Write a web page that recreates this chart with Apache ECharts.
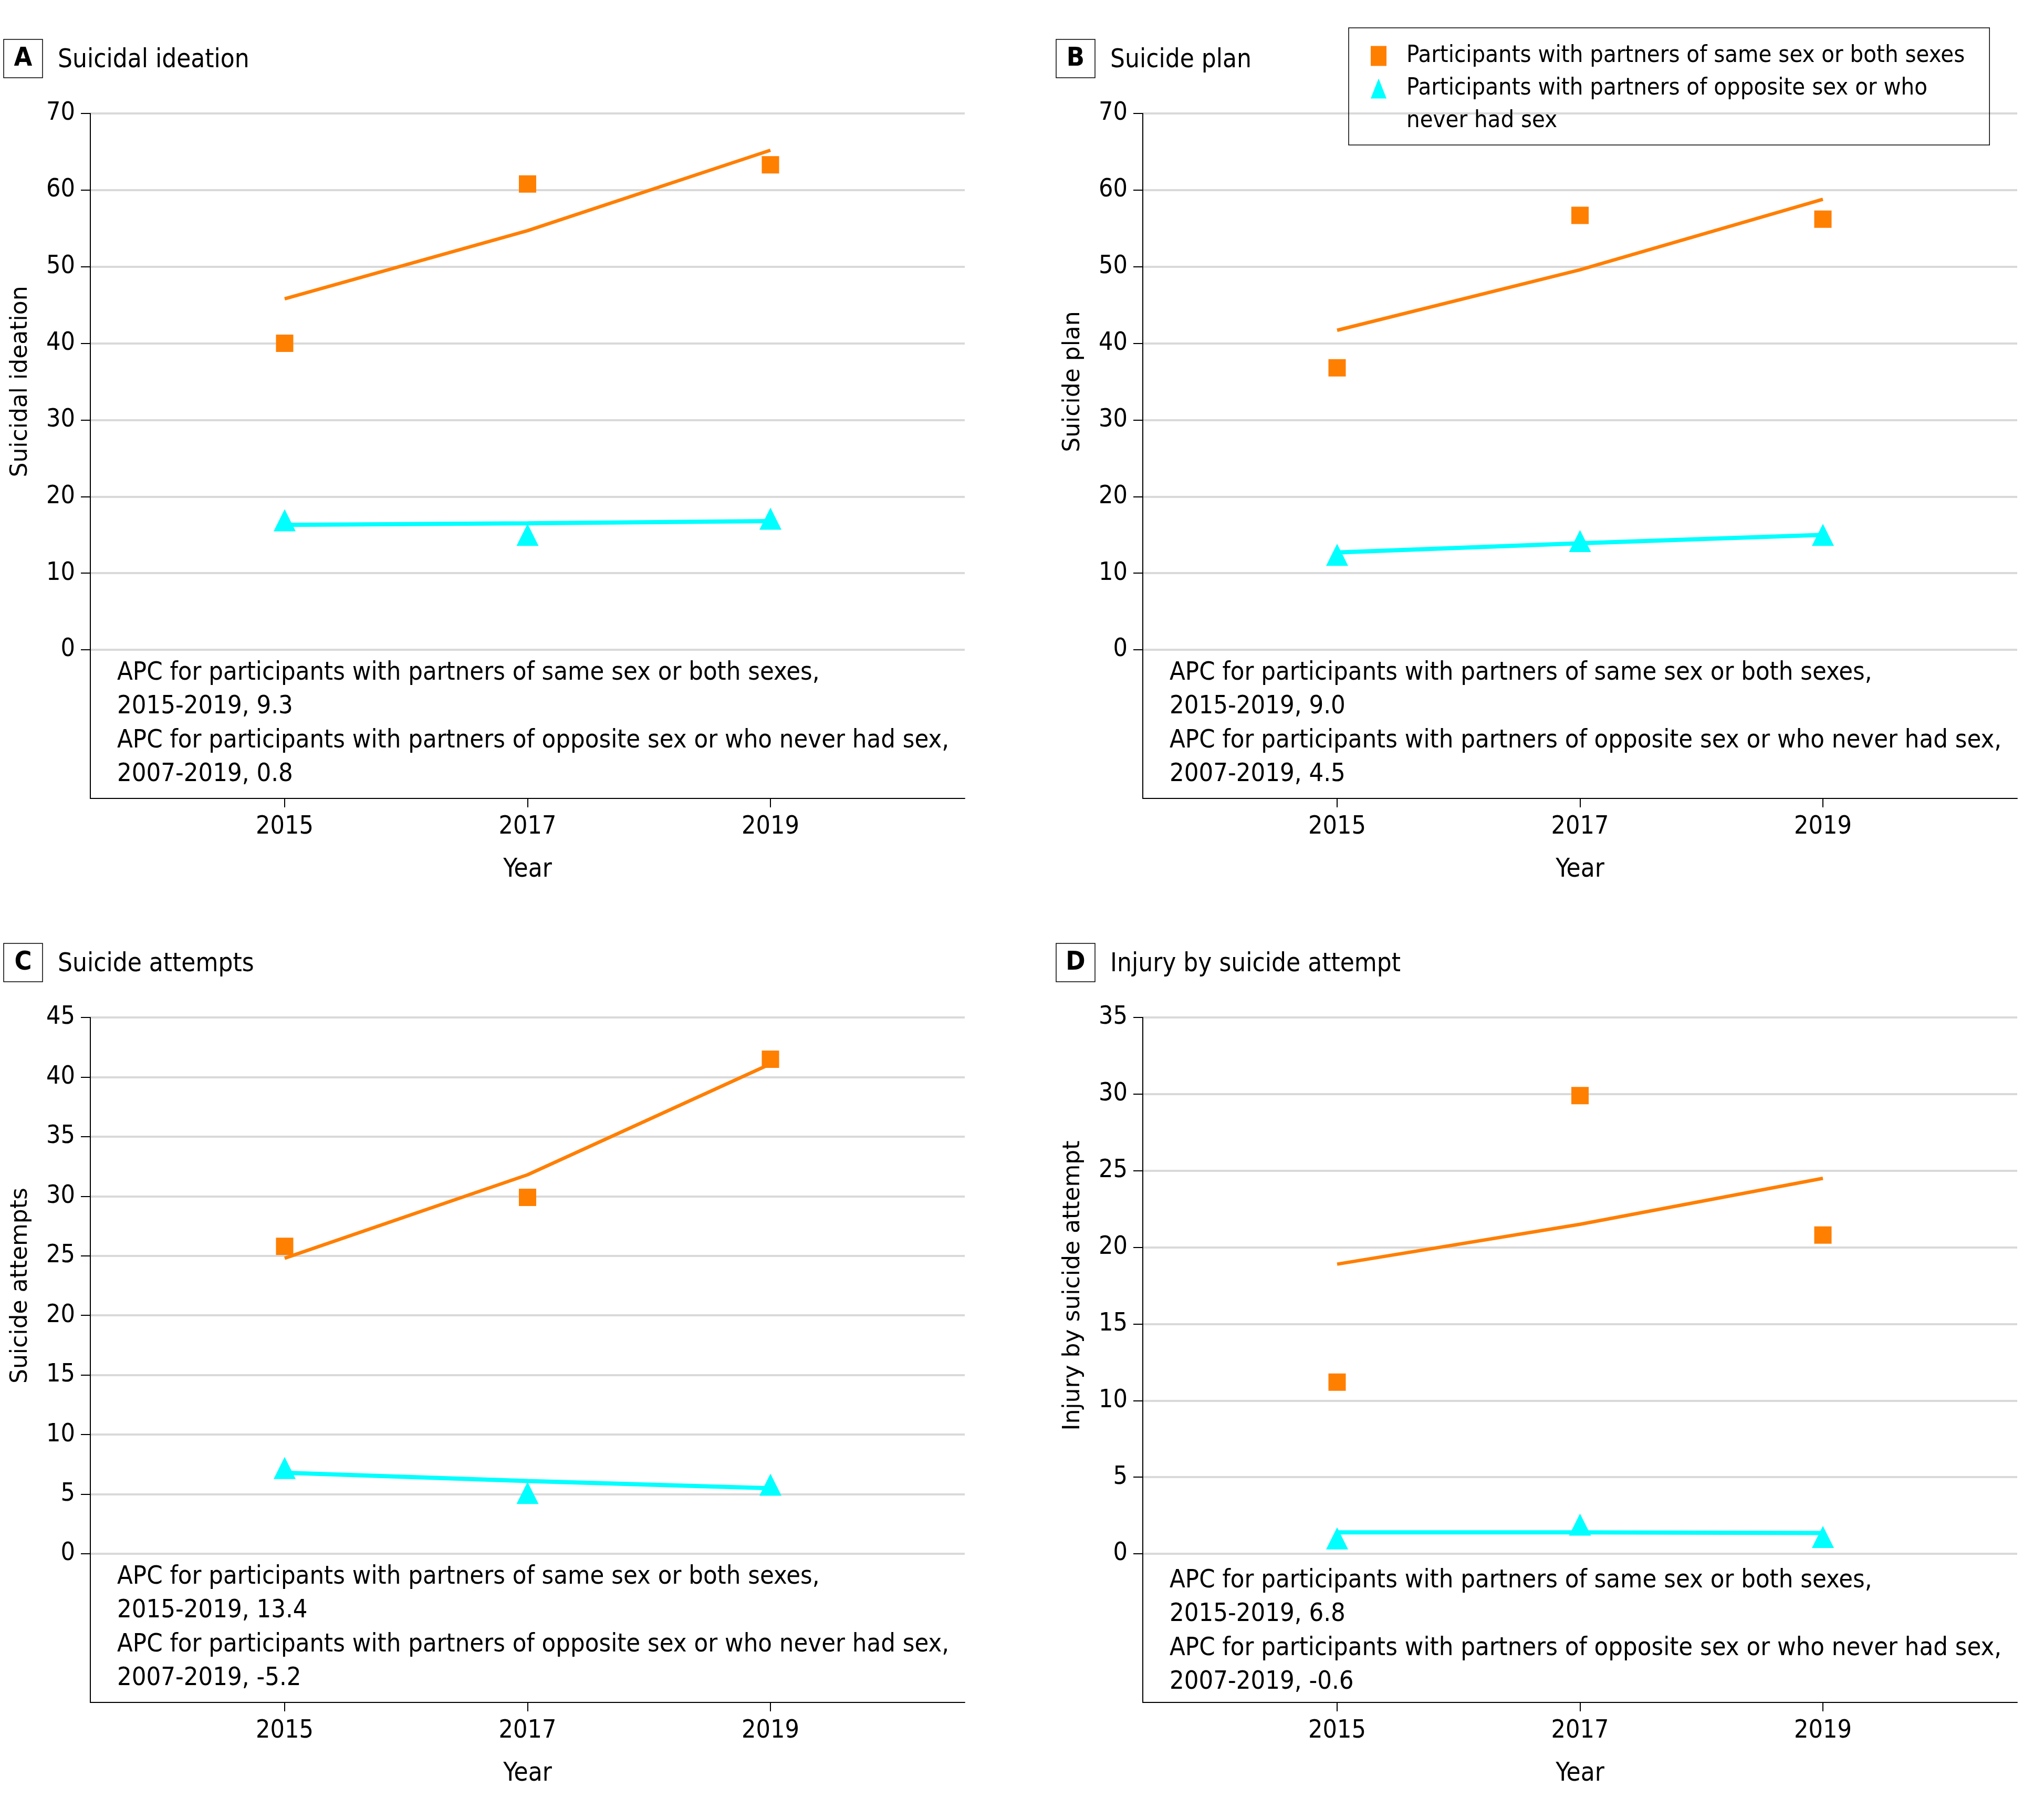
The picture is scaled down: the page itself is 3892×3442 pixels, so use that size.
<!DOCTYPE html>
<html>
<head>
<meta charset="utf-8">
<title>Suicidality by sex of sexual partners, 2015-2019</title>
<script src="https://cdn.jsdelivr.net/npm/echarts@6/dist/echarts.min.js"></script>
<style>
  html, body { margin: 0; padding: 0; background: #fff; }
  #chart { width: 3892px; height: 3442px; }
</style>
</head>
<body>
<div id="chart"></div>
<script>
// survey years and the x tick labels
const years = [2015, 2017, 2019]
const yearTicks = [2015, 2017, 2019]

// A - suicidal ideation
const ideationSame = [40.0, 60.8, 63.3]
const ideationSameFit = [45.8, 54.7, 65.2]
const ideationOpp = [16.9, 15.0, 17.1]
const ideationOppFit = [16.3, 16.5, 16.8]

// B - suicide plan
const planSame = [36.8, 56.7, 56.2]
const planSameFit = [41.7, 49.6, 58.8]
const planOpp = [12.4, 14.2, 15.0]
const planOppFit = [12.7, 13.9, 15.0]

// C - suicide attempts
const attemptSame = [25.8, 29.9, 41.5]
const attemptSameFit = [24.8, 31.8, 41.1]
const attemptOpp = [7.2, 5.1, 5.8]
const attemptOppFit = [6.8, 6.1, 5.5]

// D - injury by suicide attempt
const injurySame = [11.2, 29.9, 20.8]
const injurySameFit = [18.9, 21.5, 24.5]
const injuryOpp = [1.0, 1.9, 1.1]
const injuryOppFit = [1.4, 1.4, 1.35]

const panelLetters = ['A', 'B', 'C', 'D']
const panelTitles = ['Suicidal ideation', 'Suicide plan', 'Suicide attempts', 'Injury by suicide attempt']
const yMaxes = [70, 70, 45, 35]
const yIntervals = [10, 10, 5, 5]
const apcSame = ['9.3', '9.0', '13.4', '6.8']
const apcOpp = ['0.8', '4.5', '-5.2', '-0.6']

const legendSame = 'Participants with partners of same sex or both sexes'
const legendOpp = 'Participants with partners of opposite sex or who never had sex'

const sameByPanel = [ideationSame, planSame, attemptSame, injurySame]
const sameFitByPanel = [ideationSameFit, planSameFit, attemptSameFit, injurySameFit]
const oppByPanel = [ideationOpp, planOpp, attemptOpp, injuryOpp]
const oppFitByPanel = [ideationOppFit, planOppFit, attemptOppFit, injuryOppFit]

// styles
const ORANGE = '#ff7f00'
const CYAN = '#00ffff'
const FONT = "'Liberation Sans Narrow', 'DejaVu Sans Condensed', sans-serif"
const NAME_FONT = "'DejaVu Sans', sans-serif"

// layout (px)
const offX = [0, 2004, 0, 2004]
const offY = [0, 0, 1721, 1721]
const AXIS_LEFT = 172
const PLOT_TOP = 216
const PLOT_W = 1665
const DATA_H = 1021
const FRAME_H = 1304
const X_MIN = 2013.4
const X_MAX = 2020.6
const apcShift = [0, 0, 0, 7]

const tickStyle = { color: '#000', width: 2 }
const pairs = arr => years.map((y, k) => [y, arr[k]])

const grids = []
const xAxes = []
const yAxes = []
const series = []
const graphics = []

panelLetters.forEach((letter, i) => {
  const left = AXIS_LEFT + offX[i]
  const top = PLOT_TOP + offY[i]
  const g = i * 2 // data grid, g + 1 is the frame grid

  grids.push({ left: left, top: top, width: PLOT_W, height: DATA_H })
  grids.push({ left: left, top: top, width: PLOT_W, height: FRAME_H })

  // data grid axes
  xAxes.push({ gridIndex: g, type: 'value', min: X_MIN, max: X_MAX, show: false })
  yAxes.push({
    gridIndex: g,
    type: 'value',
    min: 0,
    max: yMaxes[i],
    interval: yIntervals[i],
    axisLine: { show: false },
    axisTick: { show: true, length: 18, lineStyle: tickStyle },
    axisLabel: { margin: 29, fontSize: 48, fontFamily: FONT, color: '#000' },
    splitLine: { show: true, lineStyle: { color: '#d9d9d9', width: 4 } },
    name: panelTitles[i],
    nameLocation: 'middle',
    nameGap: 110,
    nameTextStyle: { fontFamily: NAME_FONT, fontSize: 44, color: '#000' }
  })

  // frame grid axes (box reaching below zero, year ticks)
  xAxes.push({
    gridIndex: g + 1,
    type: 'value',
    min: X_MIN,
    max: X_MAX,
    axisLine: { show: true, onZero: false, lineStyle: tickStyle },
    axisTick: { show: true, length: 17, customValues: yearTicks, lineStyle: tickStyle },
    axisLabel: {
      customValues: yearTicks,
      margin: 31,
      fontSize: 48,
      fontFamily: FONT,
      color: '#000',
      formatter: v => String(v)
    },
    splitLine: { show: false },
    name: 'Year',
    nameLocation: 'middle',
    nameGap: 112,
    nameTextStyle: { fontFamily: FONT, fontSize: 49, color: '#000' }
  })
  yAxes.push({
    gridIndex: g + 1,
    type: 'value',
    min: 0,
    max: 1,
    axisLine: { show: true, lineStyle: tickStyle },
    axisTick: { show: false },
    axisLabel: { show: false },
    splitLine: { show: false }
  })

  // fitted trend lines
  series.push({
    type: 'line',
    name: 'fit-same-' + letter,
    xAxisIndex: g,
    yAxisIndex: g,
    data: pairs(sameFitByPanel[i]),
    symbol: 'none',
    lineStyle: { color: ORANGE, width: 6.5 },
    itemStyle: { color: ORANGE },
    silent: true,
    z: 2
  })
  series.push({
    type: 'line',
    name: 'fit-opp-' + letter,
    xAxisIndex: g,
    yAxisIndex: g,
    data: pairs(oppFitByPanel[i]),
    symbol: 'none',
    lineStyle: { color: CYAN, width: 8 },
    itemStyle: { color: CYAN },
    silent: true,
    z: 2
  })
  // observed points
  series.push({
    type: 'scatter',
    name: legendSame,
    xAxisIndex: g,
    yAxisIndex: g,
    data: pairs(sameByPanel[i]),
    symbol: 'rect',
    symbolSize: 33,
    itemStyle: { color: ORANGE, opacity: 1 },
    z: 3
  })
  series.push({
    type: 'scatter',
    name: legendOpp,
    xAxisIndex: g,
    yAxisIndex: g,
    data: pairs(oppByPanel[i]),
    symbol: 'triangle',
    symbolSize: [42, 42],
    itemStyle: { color: CYAN, opacity: 1 },
    z: 3
  })

  // panel letter box and title
  graphics.push({
    type: 'rect',
    shape: { x: 7 + offX[i], y: 75 + offY[i], width: 74, height: 73 },
    style: { fill: 'none', stroke: '#000', lineWidth: 1.5 }
  })
  graphics.push({
    type: 'text',
    x: 44 + offX[i],
    y: 112 + offY[i],
    style: {
      text: letter,
      fill: '#000',
      font: 'bold 50px ' + FONT,
      textAlign: 'center',
      textVerticalAlign: 'middle'
    }
  })
  graphics.push({
    type: 'text',
    x: 110 + offX[i],
    y: 115 + offY[i],
    style: {
      text: panelTitles[i],
      fill: '#000',
      font: '49px ' + FONT,
      textAlign: 'left',
      textVerticalAlign: 'middle'
    }
  })
  // APC note inside the plot box
  graphics.push({
    type: 'text',
    x: 223 + offX[i],
    y: 1249 + offY[i] + apcShift[i],
    style: {
      text: 'APC for participants with partners of same sex or both sexes,\n' +
        '2015-2019, ' + apcSame[i] + '\n' +
        'APC for participants with partners of opposite sex or who never had sex,\n' +
        '2007-2019, ' + apcOpp[i],
      fill: '#000',
      font: '48.5px ' + FONT,
      lineHeight: 64.5,
      textAlign: 'left',
      textVerticalAlign: 'top'
    }
  })
})
</script>
<script>
const chart = echarts.init(document.getElementById('chart'), null, { renderer: 'canvas' })
chart.setOption({
  backgroundColor: '#fff',
  animation: false,
  grid: grids,
  xAxis: xAxes,
  yAxis: yAxes,
  legend: {
    left: 2568,
    top: 53,
    orient: 'vertical',
    selectedMode: false,
    itemWidth: 30,
    itemHeight: 38,
    itemGap: 17,
    padding: [31, 47, 23, 42],
    borderColor: '#000',
    borderWidth: 1.5,
    data: [
      { name: legendSame, icon: 'rect', textStyle: { padding: [0, 0, 0, 33] } },
      { name: legendOpp, icon: 'triangle', textStyle: { padding: [62, 0, 0, 33] } }
    ],
    formatter: name => name === legendSame
      ? '{t|' + name + '}'
      : '{t|Participants with partners of opposite sex or who}\n{t|never had sex}',
    textStyle: {
      color: '#000',
      rich: { t: { fontFamily: FONT, fontSize: 45, lineHeight: 62, color: '#000' } }
    }
  },
  graphic: graphics,
  series: series
})
</script>
</body>
</html>
